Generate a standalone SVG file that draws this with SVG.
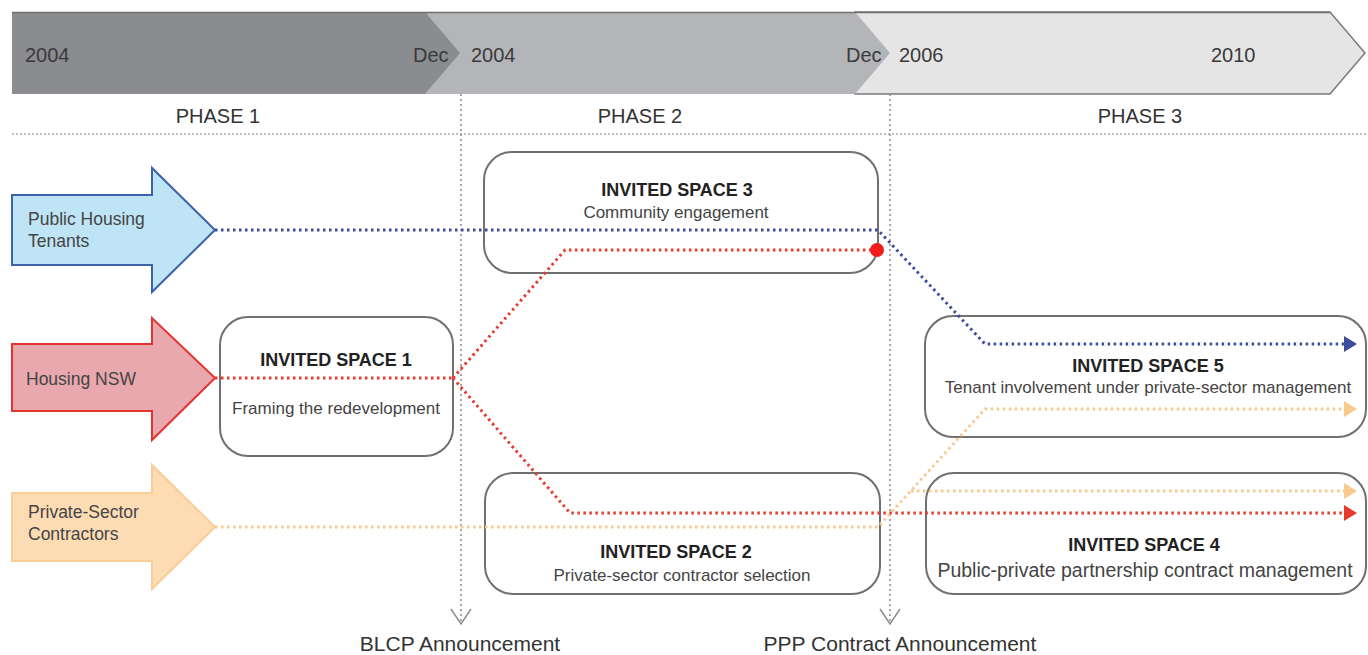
<svg xmlns="http://www.w3.org/2000/svg" width="1368" height="655" viewBox="0 0 1368 655">
<style>
.yr{font-family:"Liberation Sans",Arial,sans-serif;font-size:20px;fill:#3a3a3a}
.ph{font-family:"Liberation Sans",Arial,sans-serif;font-size:20px;fill:#333}
.act{font-family:"Liberation Sans",Arial,sans-serif;font-size:17.5px;fill:#444}
.ttl{font-family:"Liberation Sans",Arial,sans-serif;font-size:18px;font-weight:bold;fill:#222;text-anchor:middle}
.sub{font-family:"Liberation Sans",Arial,sans-serif;font-size:17px;fill:#444;text-anchor:middle}
.sub4{font-size:19.5px}
.ann{font-family:"Liberation Sans",Arial,sans-serif;font-size:21px;fill:#333;text-anchor:middle}
.box{fill:#fff;stroke:#707070;stroke-width:2}
.vline{fill:none;stroke:#8c8c8c;stroke-width:1.5;stroke-dasharray:2 3}
.dot{fill:none;stroke-width:3;stroke-dasharray:2.5 3.5}
.blue{stroke:#3c4c9c}
.red{stroke:#e63a2c}
.orange{stroke:#f8c98e}
</style>
<defs>
<marker id="ahBlue" markerUnits="userSpaceOnUse" markerWidth="14" markerHeight="18" viewBox="0 0 14 18" refX="1" refY="9" orient="auto"><path d="M0,1 L13,9 L0,17 Z" fill="#3c4c9c"/></marker>
<marker id="ahRed" markerUnits="userSpaceOnUse" markerWidth="14" markerHeight="18" viewBox="0 0 14 18" refX="1" refY="9" orient="auto"><path d="M0,1 L13,9 L0,17 Z" fill="#e63a2c"/></marker>
<marker id="ahOrange" markerUnits="userSpaceOnUse" markerWidth="14" markerHeight="18" viewBox="0 0 14 18" refX="1" refY="9" orient="auto"><path d="M0,1 L13,9 L0,17 Z" fill="#f8c98e"/></marker>
<marker id="vOpen" markerUnits="userSpaceOnUse" markerWidth="24" markerHeight="18" viewBox="0 0 24 18" refX="12" refY="16" orient="0"><path d="M2,1 L12,16 L22,1" fill="none" stroke="#8c8c8c" stroke-width="1.5"/></marker>
</defs>
<rect width="1368" height="655" fill="#fff"/>

<g id="timeline">
<polygon points="855,12 1330,12 1365,53 1330,94 855,94" fill="#e5e5e6" stroke="#7a7a7a" stroke-width="1.5"/>
<polygon points="425,12 855,12 890,53 855,94 425,94" fill="#b4b5b8"/>
<polygon points="12,12 425,12 460,53 425,94 12,94" fill="#8b8c8f"/>
<line x1="12" y1="12.5" x2="1330" y2="12.5" stroke="#6f6f6f" stroke-width="1.5"/>
<text class="yr" x="25" y="62">2004</text>
<text class="yr" x="413" y="62">Dec</text>
<text class="yr" x="471" y="62">2004</text>
<text class="yr" x="846" y="62">Dec</text>
<text class="yr" x="899" y="62">2006</text>
<text class="yr" x="1211" y="62">2010</text>
<text class="ph" x="218" y="123" text-anchor="middle">PHASE 1</text>
<text class="ph" x="640" y="123" text-anchor="middle">PHASE 2</text>
<text class="ph" x="1140" y="123" text-anchor="middle">PHASE 3</text>
<line x1="12" y1="134" x2="1368" y2="134" stroke="#a8a8a8" stroke-width="1.5" stroke-dasharray="2 2"/>
</g>

<g id="milestones">
<line class="vline" x1="461" y1="94" x2="461" y2="624" marker-end="url(#vOpen)"/>
<line class="vline" x1="890" y1="94" x2="890" y2="624" marker-end="url(#vOpen)"/>
<text class="ann" x="460" y="651">BLCP Announcement</text>
<text class="ann" x="900" y="651">PPP Contract Announcement</text>
</g>

<g id="actor-tenants">
<polygon points="12,195 152,195 152,168 215,230 152,292 152,265 12,265" fill="#bfe4f6" stroke="#3d62aa" stroke-width="2"/>
<text class="act" x="28" y="225">Public Housing</text>
<text class="act" x="28" y="247">Tenants</text>
</g>
<g id="actor-housing-nsw">
<polygon points="12,344 152,344 152,318 215,378 152,440 152,411 12,411" fill="#e9a8ae" stroke="#e3342e" stroke-width="2"/>
<text class="act" x="26" y="385">Housing NSW</text>
</g>
<g id="actor-contractors">
<polygon points="12,493 152,493 152,465 215,527 152,589 152,561 12,561" fill="#fddcb4" stroke="#f9cd96" stroke-width="2"/>
<text class="act" x="28" y="518">Private-Sector</text>
<text class="act" x="28" y="540">Contractors</text>
</g>

<g id="space1">
<rect class="box" x="220" y="317" width="233" height="139" rx="28"/>
<text class="ttl" x="336" y="366">INVITED SPACE 1</text>
<text class="sub" x="336" y="414">Framing the redevelopment</text>
</g>
<g id="space3">
<rect class="box" x="484" y="152" width="394" height="121" rx="28"/>
<text class="ttl" x="677" y="196">INVITED SPACE  3</text>
<text class="sub" x="676" y="218">Community engagement</text>
</g>
<g id="space2">
<rect class="box" x="485" y="473" width="395" height="121" rx="28"/>
<text class="ttl" x="676" y="558">INVITED SPACE  2</text>
<text class="sub" x="682" y="581">Private-sector contractor selection</text>
</g>
<g id="space5">
<rect class="box" x="925" y="316" width="441" height="121" rx="28"/>
<text class="ttl" x="1148" y="372">INVITED SPACE 5</text>
<text class="sub" x="1148" y="393">Tenant involvement under private-sector management</text>
</g>
<g id="space4">
<rect class="box" x="926" y="473" width="440" height="121" rx="28"/>
<text class="ttl" x="1144" y="551">INVITED SPACE 4</text>
<text class="sub sub4" x="1145" y="577">Public-private partnership contract management</text>
</g>

<g id="connectors">
<polyline class="dot blue" points="215,230 878,230 985,344 1345,344" marker-end="url(#ahBlue)"/>
<polyline class="dot red" points="215,378 453,378"/>
<polyline class="dot red" points="453,378 565,250 872,250"/>
<circle cx="877" cy="250" r="7" fill="#ee1c1c"/>
<polyline class="dot red" points="453,378 570,513 1345,513" marker-end="url(#ahRed)"/>
<polyline class="dot orange" points="215,527 878,527 985,409 1345,409" marker-end="url(#ahOrange)"/>
<polyline class="dot orange" points="911,491 1345,491" marker-end="url(#ahOrange)"/>
</g>
</svg>
